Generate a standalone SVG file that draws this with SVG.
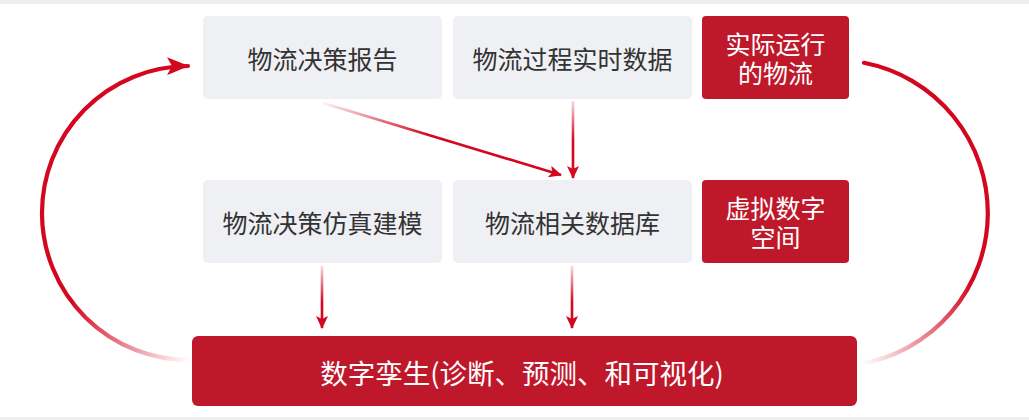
<svg xmlns="http://www.w3.org/2000/svg" width="1029" height="420" viewBox="0 0 1029 420">
<style>
.grey{fill:#eff0f4;}
.red{fill:#c0182b;}
.t{font-family:"Noto Sans CJK SC","Noto Sans",sans-serif;font-size:25px;text-anchor:middle;dominant-baseline:central;}
.tg{fill:#333333;}
.tw{fill:#ffffff;}
.arc{fill:none;stroke-width:4.2;stroke-linecap:round;}
.ln{fill:none;stroke-width:2.6;}
</style>
<defs>
<marker id="bigHead" markerUnits="userSpaceOnUse" markerWidth="22" markerHeight="18" viewBox="0 0 22 18" refX="21" refY="9" orient="auto">
<path d="M0,0 L22,9 L0,18 L5,9 Z" fill="#d3071f"/>
</marker>
<marker id="head" markerUnits="userSpaceOnUse" markerWidth="13" markerHeight="12" viewBox="0 0 13 12" refX="12" refY="6" orient="auto">
<path d="M0,0 L13,6 L0,12 L3,6 Z" fill="#d3071f"/>
</marker>
<linearGradient id="gLeft" gradientUnits="userSpaceOnUse" x1="70" y1="305" x2="188" y2="362">
<stop offset="0" stop-color="#d3071f" stop-opacity="1"/>
<stop offset="1" stop-color="#d3071f" stop-opacity="0"/>
</linearGradient>
<linearGradient id="gRight" gradientUnits="userSpaceOnUse" x1="975" y1="290" x2="862" y2="363">
<stop offset="0" stop-color="#d3071f" stop-opacity="1"/>
<stop offset="1" stop-color="#d3071f" stop-opacity="0"/>
</linearGradient>
<linearGradient id="gDiag" gradientUnits="userSpaceOnUse" x1="323" y1="103" x2="430" y2="135">
<stop offset="0" stop-color="#d3071f" stop-opacity="0.05"/>
<stop offset="1" stop-color="#d3071f" stop-opacity="1"/>
</linearGradient>
<linearGradient id="gV1" gradientUnits="userSpaceOnUse" x1="0" y1="101" x2="0" y2="140">
<stop offset="0" stop-color="#d3071f" stop-opacity="0.15"/>
<stop offset="1" stop-color="#d3071f" stop-opacity="1"/>
</linearGradient>
<linearGradient id="gV2" gradientUnits="userSpaceOnUse" x1="0" y1="266" x2="0" y2="302">
<stop offset="0" stop-color="#d3071f" stop-opacity="0.15"/>
<stop offset="1" stop-color="#d3071f" stop-opacity="1"/>
</linearGradient>
</defs>
<rect x="0" y="0" width="1029" height="420" fill="#ffffff"/>
<rect x="0" y="0" width="1029" height="4" fill="#eeeeee"/>
<rect x="0" y="417" width="1029" height="3" fill="#eeeeee"/>

<g id="connectors">
<path class="arc" d="M190,360 A147,147 0 0 1 188,66" stroke="url(#gLeft)" marker-end="url(#bigHead)"/>
<path class="arc" d="M864,62.8 A153,153 0 0 1 860,363.9" stroke="url(#gRight)"/>
<path class="ln" d="M323,103 L561,175" stroke="url(#gDiag)" marker-end="url(#head)"/>
<path class="ln" d="M573,101 L573,178" stroke="url(#gV1)" marker-end="url(#head)"/>
<path class="ln" d="M322,266 L322,328" stroke="url(#gV2)" marker-end="url(#head)"/>
<path class="ln" d="M572,266 L572,328" stroke="url(#gV2)" marker-end="url(#head)"/>
</g>

<g id="n-report">
<rect class="grey" x="203" y="16" width="239" height="83" rx="5"/>
<text class="t tg" x="322.5" y="58">物流决策报告</text>
</g>
<g id="n-realtime">
<rect class="grey" x="453" y="16" width="239" height="83" rx="5"/>
<text class="t tg" x="572.5" y="58">物流过程实时数据</text>
</g>
<g id="n-actual">
<rect class="red" x="702" y="16" width="147" height="83" rx="4"/>
<text class="t tw" x="775.5" y="43"><tspan x="775.5" y="43">实际运行</tspan><tspan x="775.5" y="72">的物流</tspan></text>
</g>
<g id="n-sim">
<rect class="grey" x="203" y="180" width="239" height="83" rx="5"/>
<text class="t tg" x="322.5" y="222">物流决策仿真建模</text>
</g>
<g id="n-db">
<rect class="grey" x="453" y="180" width="239" height="83" rx="5"/>
<text class="t tg" x="572.5" y="222">物流相关数据库</text>
</g>
<g id="n-virtual">
<rect class="red" x="702" y="180" width="147" height="83" rx="4"/>
<text class="t tw" x="775.5" y="207"><tspan x="775.5" y="207">虚拟数字</tspan><tspan x="775.5" y="236">空间</tspan></text>
</g>
<g id="n-twin">
<rect class="red" x="192" y="336" width="665" height="70" rx="6"/>
<text class="t tw" x="522" y="372" style="font-size:27.5px">数字孪生(诊断、预测、和可视化)</text>
</g>
</svg>
